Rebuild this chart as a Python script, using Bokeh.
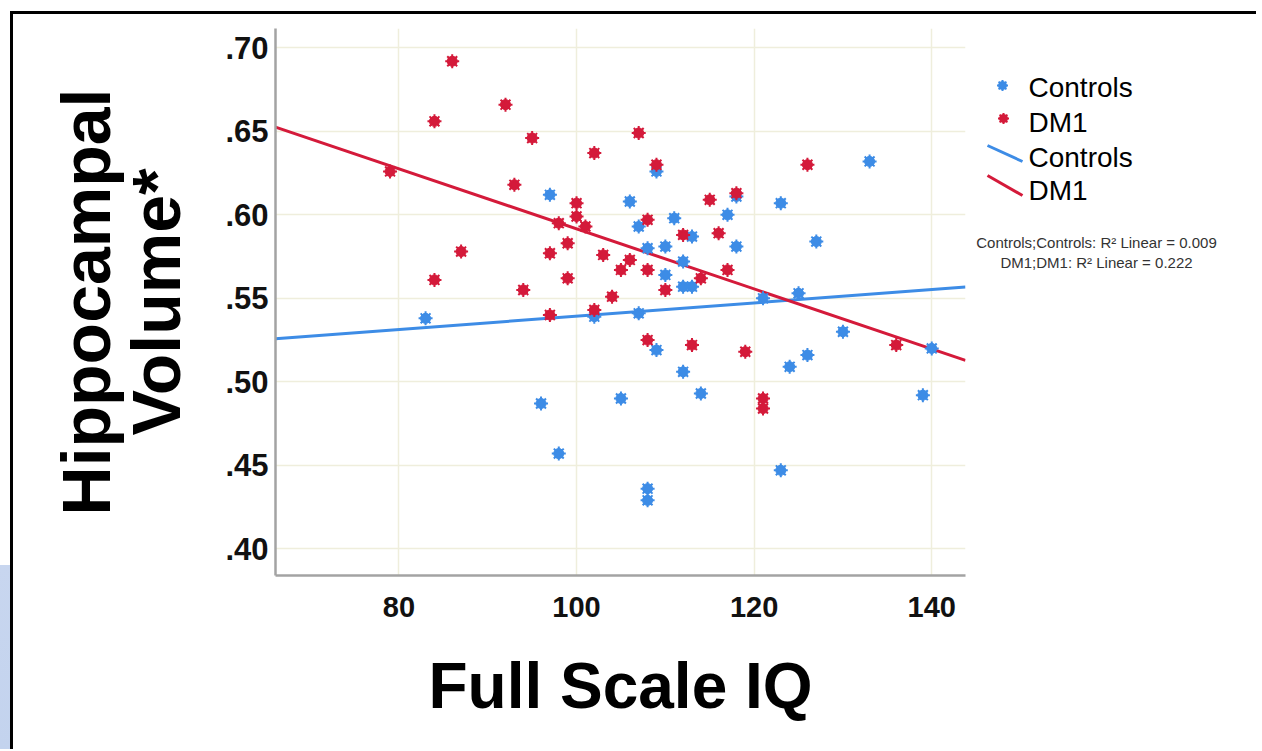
import numpy as np
from bokeh.plotting import figure
from bokeh.models import FixedTicker, Range1d, Div
from bokeh.layouts import row
from bokeh.core.properties import value
from bokeh.embed import file_html
from bokeh.resources import INLINE

# ---- data ----
ctrl_iq = [97, 109, 133, 106, 118, 123, 111, 117, 107, 113, 127, 108, 110, 118, 112, 110,
           112, 113, 125, 121, 83, 102, 107, 109, 112, 114, 105, 96, 98, 130, 124, 126,
           140, 139, 123, 108, 108]
ctrl_vol = [0.612, 0.626, 0.632, 0.608, 0.611, 0.607, 0.598, 0.600, 0.593, 0.587, 0.584, 0.580,
            0.581, 0.581, 0.572, 0.564, 0.557, 0.557, 0.553, 0.550, 0.538, 0.539, 0.541, 0.519,
            0.506, 0.493, 0.490, 0.487, 0.457, 0.530, 0.509, 0.516, 0.520, 0.492, 0.447, 0.436,
            0.429]
dm1_iq = [86, 92, 84, 95, 102, 79, 93, 100, 100, 98, 101, 99, 87, 97, 103, 105, 84, 99, 94,
          104, 107, 109, 126, 115, 118, 108, 112, 116, 106, 108, 117, 114, 110, 97, 102, 108,
          113, 119, 121, 121, 136]
dm1_vol = [0.692, 0.666, 0.656, 0.646, 0.637, 0.626, 0.618, 0.607, 0.599, 0.595, 0.593, 0.583,
           0.578, 0.577, 0.576, 0.567, 0.561, 0.562, 0.555, 0.551, 0.649, 0.630, 0.630, 0.609,
           0.613, 0.597, 0.588, 0.589, 0.573, 0.567, 0.567, 0.562, 0.555, 0.540, 0.543, 0.525,
           0.522, 0.518, 0.490, 0.484, 0.522]

# linear fit lines (intercept, slope) as drawn in the reference
ctrl_fit = [0.4995, 0.000398]
dm1_fit = [0.7714, -0.001798]

x_ticks = [80, 100, 120, 140]
y_ticks = [0.40, 0.45, 0.50, 0.55, 0.60, 0.65, 0.70]
y_tick_labels = [".40", ".45", ".50", ".55", ".60", ".65", ".70"]
legend_labels = ["Controls", "DM1", "Controls", "DM1"]
r2_texts = ["Controls;Controls: R\u00b2 Linear = 0.009", "DM1;DM1: R\u00b2 Linear = 0.222"]

BLUE = "#3d8ce6"
RED = "#d41a3a"
FONT = "Liberation Sans"

x_lo, x_hi = 66.1, 143.8
y_lo, y_hi = 0.384, 0.7116

# ---- page geometry ----
STRIP = 10          # light-blue strip at far left
BORDER = 3          # black frame line (top / left)
TOP = 11            # space above black frame line
X0 = STRIP + BORDER  # canvas origin x on page
Y0 = TOP + BORDER    # canvas origin y on page

# frame of main plot on page: x 275..965, y 28..575
Hm = 735
ML, MT, FW, FH = 275 - X0, 28 - Y0, 690, 547
Wm = ML + FW + 1

p = figure(width=Wm, height=Hm, output_backend="svg", toolbar_location=None,
           x_range=Range1d(x_lo, x_hi), y_range=Range1d(y_lo, y_hi),
           min_border_left=ML, min_border_top=MT,
           min_border_right=Wm - ML - FW, min_border_bottom=Hm - MT - FH)
p.outline_line_color = None
p.background_fill_color = "white"
p.border_fill_color = "white"

p.xgrid.ticker = FixedTicker(ticks=x_ticks)
p.ygrid.ticker = FixedTicker(ticks=y_ticks)
for g in (p.xgrid, p.ygrid):
    g.grid_line_color = "#efeedc"
    g.grid_line_width = 1.5

for ax in (p.xaxis, p.yaxis):
    ax.axis_line_color = "#a3a3a3"
    ax.axis_line_width = 2.5
    ax.major_tick_line_color = None
    ax.minor_tick_line_color = None
    ax.major_tick_out = 0
    ax.major_tick_in = 0
    ax.major_label_text_font = FONT
    ax.major_label_text_font_style = "bold"
    ax.major_label_text_color = "#111111"
    ax.axis_label_text_font = FONT
    ax.axis_label_text_font_style = "bold"
    ax.axis_label_text_color = "#000000"

p.xaxis.ticker = FixedTicker(ticks=x_ticks)
p.yaxis.ticker = FixedTicker(ticks=y_ticks)
p.yaxis.major_label_overrides = {t: l for t, l in zip(y_ticks, y_tick_labels)}
p.xaxis.major_label_text_font_size = "29px"
p.yaxis.major_label_text_font_size = "31px"
p.xaxis.major_label_standoff = 21
p.yaxis.major_label_standoff = 7

p.xaxis.axis_label = "Full Scale IQ"
p.xaxis.axis_label_text_font_size = "64px"
p.xaxis.axis_label_standoff = 30
p.yaxis.axis_label = "Hippocampal\nVolume*"
p.yaxis.axis_label_text_font_size = "68px"
p.yaxis.axis_label_text_line_height = 0.92
p.yaxis.axis_label_standoff = 28

fx = np.array([x_lo, x_hi])
p.line(fx, ctrl_fit[0] + ctrl_fit[1] * fx, line_color=BLUE, line_width=3)
p.line(fx, dm1_fit[0] + dm1_fit[1] * fx, line_color=RED, line_width=3)

p.scatter(ctrl_iq, ctrl_vol, marker="circle", size=10, fill_color=BLUE, line_color=BLUE)
p.scatter(ctrl_iq, ctrl_vol, marker="asterisk", size=14, line_color=BLUE, line_width=2)
p.scatter(dm1_iq, dm1_vol, marker="circle", size=10, fill_color=RED, line_color=RED)
p.scatter(dm1_iq, dm1_vol, marker="asterisk", size=14, line_color=RED, line_width=2)

# ---- legend / fit-statistics panel; its frame is aligned with the main frame,
#      ranges are set so that coordinates are page pixels (y downwards) ----
Ws = 290
side_left = X0 + Wm
side = figure(width=Ws, height=Hm, output_backend="svg", toolbar_location=None,
              x_range=Range1d(side_left, side_left + Ws), y_range=Range1d(575, 28),
              min_border=0, min_border_left=0, min_border_right=0,
              min_border_top=MT, min_border_bottom=Hm - MT - FH)
side.axis.visible = False
side.grid.visible = False
side.outline_line_color = None
side.border_fill_color = "white"
side.background_fill_color = "white"

key_x, key_y = [1002, 1003], [85, 118]
key_colors = [BLUE, RED]
side.scatter(key_x, key_y, marker="circle", size=8, fill_color=key_colors, line_color=key_colors)
side.scatter(key_x, key_y, marker="asterisk", size=11, line_color=key_colors, line_width=2)
side.segment(x0=[987, 987], y0=[145, 175], x1=[1022, 1022], y1=[161, 195],
             line_color=key_colors, line_width=3)
side.text(x=[1028] * 4, y=[87, 122, 157, 190], text=legend_labels,
          text_font=value(FONT), text_font_size="28px", text_color="#000000",
          text_baseline="middle", text_align="left")
side.text(x=[1096, 1096], y=[242, 262], text=r2_texts,
          text_font=value(FONT), text_font_size="15px", text_color="#333333",
          text_baseline="middle", text_align="center")

strip = Div(width=STRIP, height=Hm + Y0, margin=0,
            styles={"background": "linear-gradient(to bottom, #ffffff 0px, #ffffff 565px, "
                                  "#c8d6ef 565px, #c3d3ee 100%)"})
framed = row(p, side, margin=(TOP, 0, 0, 0),
             styles={"border-top": "3px solid #000", "border-left": "3px solid #000"})
layout = row(strip, framed, margin=0)

open("out.html", "w").write(file_html(layout, INLINE))
